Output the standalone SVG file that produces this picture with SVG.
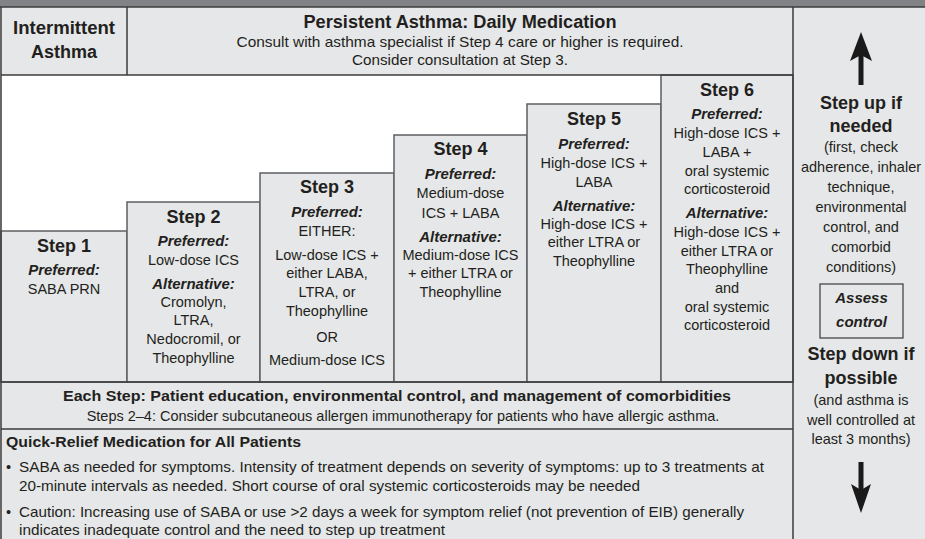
<svg xmlns="http://www.w3.org/2000/svg" width="925" height="539" viewBox="0 0 925 539">
<style>
text{font-family:"Liberation Sans",Arial,sans-serif;fill:#231f20}
.r{font-size:14.5px}
.b{font-size:18px;font-weight:bold}
.bi{font-size:15px;font-weight:bold;font-style:italic}
.h{font-size:14.5px;font-weight:bold}
.m{text-anchor:middle}
.box{fill:#e6e7e8;stroke:#5e5f61;stroke-width:1.5}
.ln{stroke:#3b3b3d;stroke-width:1.5;fill:none}
.arr{fill:#1a1a1a}
</style>
<rect x="0" y="0" width="925" height="539" fill="#e6e7e8"/>
<rect x="0" y="0" width="925" height="7" fill="#808285"/>
<rect x="1" y="75" width="792" height="307" fill="#ffffff"/>

<g id="header-intermittent">
<text class="b m" x="64" y="34" textLength="102" lengthAdjust="spacingAndGlyphs">Intermittent</text>
<text class="b m" x="64" y="58">Asthma</text>
</g>
<g id="header-persistent">
<text class="b m" x="460" y="28" textLength="313" lengthAdjust="spacingAndGlyphs">Persistent Asthma: Daily Medication</text>
<text class="r m" x="460" y="46.5" textLength="447" lengthAdjust="spacingAndGlyphs">Consult with asthma specialist if Step 4 care or higher is required.</text>
<text class="r m" x="460" y="65" textLength="216" lengthAdjust="spacingAndGlyphs">Consider consultation at Step 3.</text>
</g>

<g id="step1">
<rect class="box" x="1" y="231" width="126" height="151"/>
<text class="b m" x="64" y="251.5">Step 1</text>
<text class="bi m" x="64" y="275">Preferred:</text>
<text class="r m" x="64" y="294.3">SABA PRN</text>
</g>
<g id="step2">
<rect class="box" x="127" y="202" width="133" height="180"/>
<text class="b m" x="193.5" y="223.3">Step 2</text>
<text class="bi m" x="193.5" y="246">Preferred:</text>
<text class="r m" x="193.5" y="265">Low-dose ICS</text>
<text class="bi m" x="193.5" y="289.3">Alternative:</text>
<text class="r m" x="193.5" y="306.7">Cromolyn,</text>
<text class="r m" x="193.5" y="325.3">LTRA,</text>
<text class="r m" x="193.5" y="344.3">Nedocromil, or</text>
<text class="r m" x="193.5" y="362.7">Theophylline</text>
</g>
<g id="step3">
<rect class="box" x="260" y="173" width="134" height="209"/>
<text class="b m" x="327" y="193.3">Step 3</text>
<text class="bi m" x="327" y="217.3">Preferred:</text>
<text class="r m" x="327" y="236">EITHER:</text>
<text class="r m" x="327" y="260">Low-dose ICS +</text>
<text class="r m" x="327" y="278.3">either LABA,</text>
<text class="r m" x="327" y="297.3">LTRA, or</text>
<text class="r m" x="327" y="316">Theophylline</text>
<text class="r m" x="327" y="341.7">OR</text>
<text class="r m" x="327" y="365">Medium-dose ICS</text>
</g>
<g id="step4">
<rect class="box" x="394" y="135" width="133" height="247"/>
<text class="b m" x="460.5" y="155">Step 4</text>
<text class="bi m" x="460.5" y="179.3">Preferred:</text>
<text class="r m" x="460.5" y="198.3">Medium-dose</text>
<text class="r m" x="460.5" y="217.7">ICS + LABA</text>
<text class="bi m" x="460.5" y="241.7">Alternative:</text>
<text class="r m" x="460.5" y="260">Medium-dose ICS</text>
<text class="r m" x="460.5" y="278.3">+ either LTRA or</text>
<text class="r m" x="460.5" y="296.7">Theophylline</text>
</g>
<g id="step5">
<rect class="box" x="527" y="104" width="134" height="278"/>
<text class="b m" x="594" y="125">Step 5</text>
<text class="bi m" x="594" y="149.3">Preferred:</text>
<text class="r m" x="594" y="167.7">High-dose ICS +</text>
<text class="r m" x="594" y="186.7">LABA</text>
<text class="bi m" x="594" y="210.7">Alternative:</text>
<text class="r m" x="594" y="229">High-dose ICS +</text>
<text class="r m" x="594" y="247.3">either LTRA or</text>
<text class="r m" x="594" y="266">Theophylline</text>
</g>
<g id="step6">
<rect class="box" x="661" y="75" width="132" height="307"/>
<text class="b m" x="727" y="96">Step 6</text>
<text class="bi m" x="727" y="119.3">Preferred:</text>
<text class="r m" x="727" y="138.3">High-dose ICS +</text>
<text class="r m" x="727" y="156.7">LABA +</text>
<text class="r m" x="727" y="176">oral systemic</text>
<text class="r m" x="727" y="194.3">corticosteroid</text>
<text class="bi m" x="727" y="218.3">Alternative:</text>
<text class="r m" x="727" y="236.7">High-dose ICS +</text>
<text class="r m" x="727" y="255.7">either LTRA or</text>
<text class="r m" x="727" y="274.3">Theophylline</text>
<text class="r m" x="727" y="292.7">and</text>
<text class="r m" x="727" y="311.7">oral systemic</text>
<text class="r m" x="727" y="330">corticosteroid</text>
</g>

<g id="each-step">
<text class="h m" x="397" y="400.7" textLength="668" lengthAdjust="spacingAndGlyphs">Each Step: Patient education, environmental control, and management of comorbidities</text>
<text class="r m" x="403" y="420.7">Steps 2–4: Consider subcutaneous allergen immunotherapy for patients who have allergic asthma.</text>
</g>

<g id="quick-relief">
<text class="h" x="6" y="447" font-size="15.5" textLength="295" lengthAdjust="spacingAndGlyphs">Quick-Relief Medication for All Patients</text>
<text class="r" x="6" y="471.7">•</text>
<text class="r" x="19" y="471.7" textLength="745" lengthAdjust="spacingAndGlyphs">SABA as needed for symptoms. Intensity of treatment depends on severity of symptoms: up to 3 treatments at</text>
<text class="r" x="19" y="491" textLength="621" lengthAdjust="spacingAndGlyphs">20-minute intervals as needed. Short course of oral systemic corticosteroids may be needed</text>
<text class="r" x="6" y="516.7">•</text>
<text class="r" x="19" y="516.7" textLength="725" lengthAdjust="spacingAndGlyphs">Caution: Increasing use of SABA or use &gt;2 days a week for symptom relief (not prevention of EIB) generally</text>
<text class="r" x="19" y="535" textLength="426" lengthAdjust="spacingAndGlyphs">indicates inadequate control and the need to step up treatment</text>
</g>

<g id="side-column">
<text class="b m" x="861" y="109">Step up if</text>
<text class="b m" x="861" y="131.7">needed</text>
<text class="r m" x="861" y="151.7">(first, check</text>
<text class="r m" x="861" y="171.7">adherence, inhaler</text>
<text class="r m" x="861" y="191.7">technique,</text>
<text class="r m" x="861" y="211.7">environmental</text>
<text class="r m" x="861" y="231.7">control, and</text>
<text class="r m" x="861" y="251.7">comorbid</text>
<text class="r m" x="861" y="271.7">conditions)</text>
<g id="assess-control">
<rect x="820" y="284" width="83" height="54" fill="none" stroke="#3b3b3d" stroke-width="1.2"/>
<text class="bi m" x="861.5" y="303.3" font-size="17">Assess</text>
<text class="bi m" x="861.5" y="326.7" font-size="17">control</text>
</g>
<text class="b m" x="861" y="360">Step down if</text>
<text class="b m" x="861" y="384">possible</text>
<text class="r m" x="861" y="405">(and asthma is</text>
<text class="r m" x="861" y="424.5">well controlled at</text>
<text class="r m" x="861" y="444">least 3 months)</text>
</g>

<g id="connectors">
<rect class="arr" x="858.5" y="52" width="5" height="33"/>
<path class="arr" d="M861,32 L872,61 L861,55 L850,61 Z"/>
<rect class="arr" x="858.5" y="462" width="5" height="30"/>
<path class="arr" d="M861,513 L871,484 L861,490 L851,484 Z"/>
</g>

<g id="frame">
<line class="ln" x1="0" y1="7" x2="925" y2="7"/>
<line class="ln" x1="1" y1="7" x2="1" y2="539"/>
<line class="ln" x1="127" y1="7" x2="127" y2="75"/>
<line class="ln" x1="793" y1="7" x2="793" y2="539"/>
<line class="ln" x1="1" y1="75" x2="793" y2="75"/>
<line class="ln" x1="1" y1="382" x2="793" y2="382"/>
<line class="ln" x1="1" y1="429" x2="793" y2="429"/>
</g>
</svg>
